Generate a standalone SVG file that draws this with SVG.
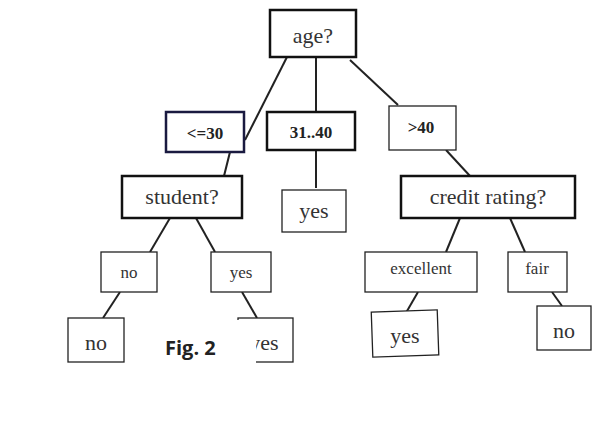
<svg xmlns="http://www.w3.org/2000/svg" width="613" height="429" viewBox="0 0 613 429">
<style>
.b{fill:#fff;stroke:#222;stroke-width:1.3}
.k{fill:#fff;stroke:#111;stroke-width:2.5}
.t{font-family:"Liberation Serif",serif;fill:#333;text-anchor:middle}
.c line{stroke:#222;stroke-width:2}
</style>
<rect width="613" height="429" fill="#fff"/>
<g class="c">
<line x1="287" y1="57" x2="245" y2="140"/>
<line x1="316" y1="57" x2="316" y2="112"/>
<line x1="350" y1="60" x2="398" y2="105"/>
<line x1="230" y1="152" x2="224" y2="176"/>
<line x1="316" y1="150" x2="316" y2="188"/>
<line x1="446" y1="150" x2="470" y2="176"/>
<line x1="170" y1="218" x2="150" y2="252"/>
<line x1="196" y1="218" x2="215" y2="252"/>
<line x1="120" y1="292" x2="103" y2="318"/>
<line x1="242" y1="292" x2="257" y2="318"/>
<line x1="460" y1="218" x2="446" y2="252"/>
<line x1="510" y1="218" x2="525" y2="252"/>
<line x1="418" y1="292" x2="403" y2="318"/>
<line x1="552" y1="292" x2="562" y2="306"/>
</g>
<g id="age"><rect class="k" x="270" y="10" width="86" height="47"/><text class="t" x="313" y="43" font-size="22">age?</text></g>
<g id="le30"><rect class="k" x="166" y="112" width="78" height="40" style="stroke:#1a1a40"/><text class="t" x="205" y="139" font-size="17" font-weight="bold" style="fill:#222">&lt;=30</text></g>
<g id="m3140"><rect class="k" x="267" y="112" width="88" height="38"/><text class="t" x="311" y="138" font-size="17" font-weight="bold" style="fill:#222">31..40</text></g>
<g id="gt40"><rect class="b" x="389" y="106" width="67" height="44"/><text class="t" x="421" y="133" font-size="17" font-weight="bold" style="fill:#222">&gt;40</text></g>
<g id="student"><rect class="k" x="122" y="176" width="120" height="42"/><text class="t" x="182" y="204" font-size="22">student?</text></g>
<g id="yes1"><rect class="b" x="282" y="190" width="64" height="42"/><text class="t" x="314" y="218" font-size="22">yes</text></g>
<g id="credit"><rect class="k" x="401" y="176" width="174" height="42"/><text class="t" x="488" y="204" font-size="22">credit rating?</text></g>
<g id="sno"><rect class="b" x="101" y="252" width="56" height="40"/><text class="t" x="129" y="278" font-size="17">no</text></g>
<g id="syes"><rect class="b" x="211" y="252" width="60" height="40"/><text class="t" x="241" y="278" font-size="17">yes</text></g>
<g id="exc"><rect class="b" x="365" y="252" width="112" height="40"/><text class="t" x="421" y="274" font-size="17">excellent</text></g>
<g id="fair"><rect class="b" x="508" y="252" width="59" height="40"/><text class="t" x="537" y="274" font-size="17">fair</text></g>
<g id="lno"><rect class="b" x="68" y="318" width="56" height="44"/><text class="t" x="96" y="350" font-size="22">no</text></g>
<g id="lyes"><rect class="b" x="238" y="318" width="55" height="44"/><text class="t" x="264" y="350" font-size="22">yes</text></g>
<g id="cyes"><rect class="b" x="372" y="311" width="66" height="45" transform="rotate(-2 405 333)"/><text class="t" x="405" y="343" font-size="22">yes</text></g>
<g id="cno"><rect class="b" x="537" y="306" width="54" height="44"/><text class="t" x="564" y="338" font-size="22">no</text></g>
<g id="fig"><rect x="160" y="320" width="96" height="44" fill="#fff"/><text x="165" y="355" font-family="'Open Sans','Liberation Sans',sans-serif" font-weight="bold" font-size="20" fill="#222">Fig. 2</text></g>
</svg>
